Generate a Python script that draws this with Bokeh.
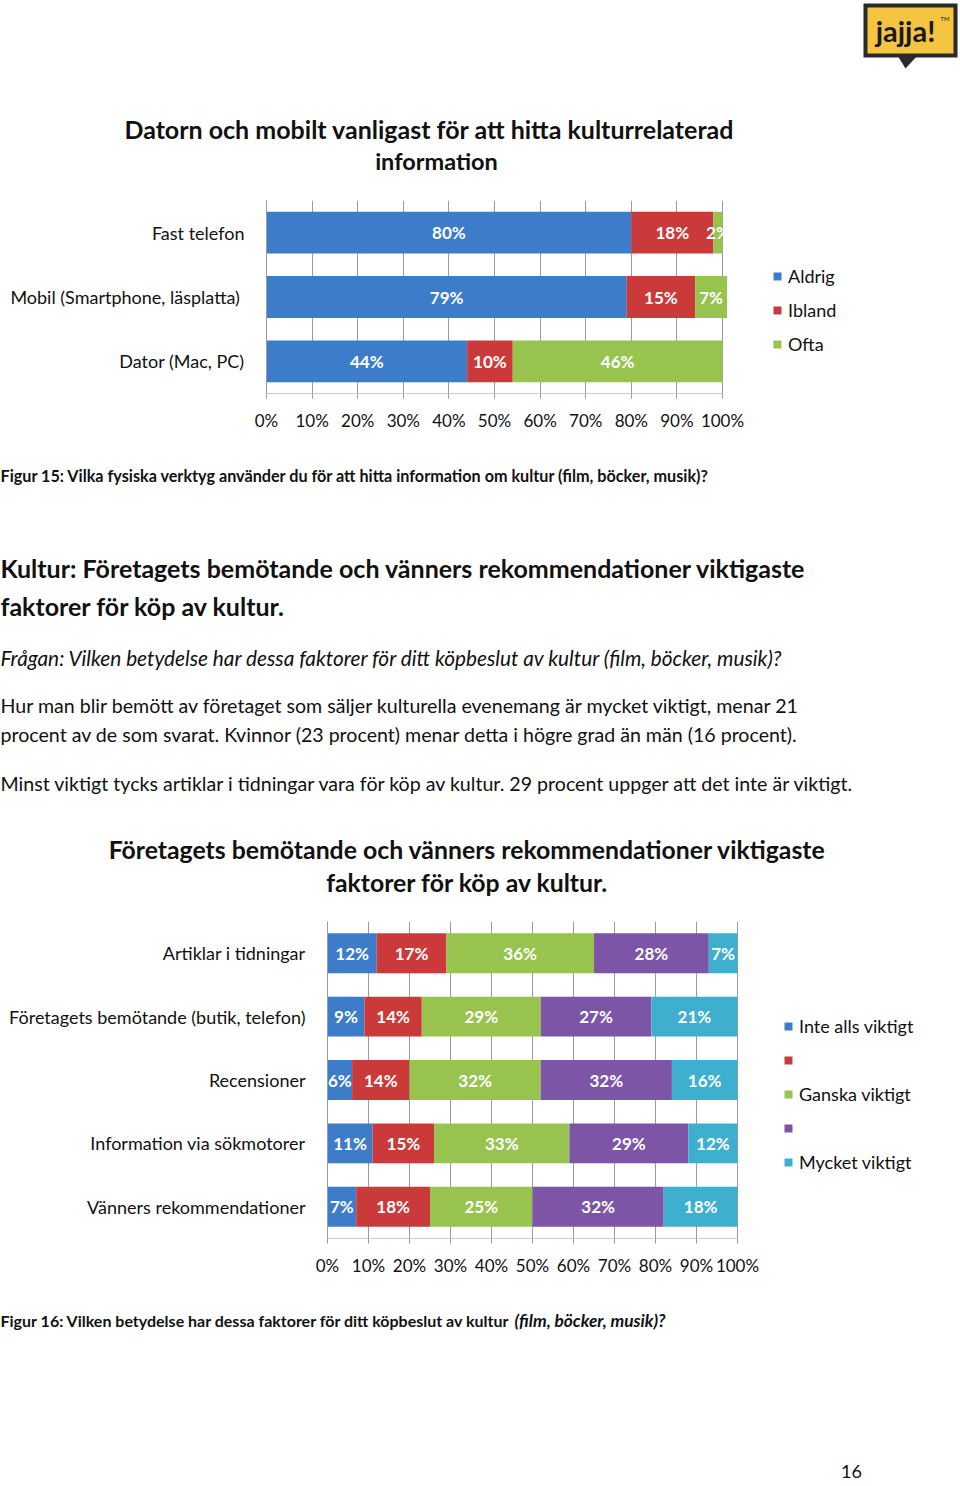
from bokeh.plotting import figure
from bokeh.models import (Range1d, FactorRange, Label, LabelSet, ColumnDataSource,
                          Legend, LegendItem, FixedTicker)
from bokeh.layouts import column
from bokeh.core.properties import value
from bokeh.embed import file_html
from bokeh.resources import INLINE

# ---------------- data ----------------
tick_values = [0, 10, 20, 30, 40, 50, 60, 70, 80, 90, 100]
tick_labels = ["0%", "10%", "20%", "30%", "40%", "50%", "60%", "70%", "80%", "90%", "100%"]

c1_title = ["Datorn och mobilt vanligast för att hitta kulturrelaterad", "information"]
c1_categories = ["Fast telefon", "Mobil (Smartphone,  läsplatta)", "Dator (Mac, PC)"]
c1_series = ["Aldrig", "Ibland", "Ofta"]
c1_aldrig = [80, 79, 44]
c1_ibland = [18, 15, 10]
c1_ofta = [2, 7, 46]

c2_title = ["Företagets bemötande och vänners rekommendationer viktigaste",
            "faktorer för köp av kultur."]
c2_categories = ["Artiklar i tidningar", "Företagets bemötande (butik, telefon)",
                 "Recensioner", "Information via sökmotorer", "Vänners rekommendationer"]
c2_series = ["Inte alls viktigt", "", "Ganska viktigt", "", "Mycket viktigt"]
c2_inte_alls = [12, 9, 6, 11, 7]
c2_lite = [17, 14, 14, 15, 18]
c2_ganska = [36, 29, 32, 33, 25]
c2_ganska_mycket = [28, 27, 32, 29, 32]
c2_mycket = [7, 21, 16, 12, 18]

# ---------------- style ----------------
W = 958
FONT = "Lato"
BLUE, RED, GREEN, PURPLE, TEAL = "#3d7cc9", "#cb3a3a", "#97c34e", "#7d55a6", "#3eafcf"
GRID = "#9a9a9a"
TXT = "#111111"


def canvas(h):
    p = figure(width=W, height=h, x_range=Range1d(0, W), y_range=Range1d(h, 0),
               x_axis_type=None, y_axis_type=None, output_backend="svg",
               toolbar_location=None, min_border=0, frame_align=False)
    p.grid.visible = False
    p.outline_line_color = None
    return p


def txt(p, x, y, s, size, style="normal", align="left", color=TXT):
    p.add_layout(Label(x=x, y=y, text=s, text_font=FONT, text_font_size=f"{size}px",
                       text_font_style=style, text_align=align, text_baseline="middle",
                       text_color=color))


def chart(cats, series_vals, names, colors, x0, px100, fh, legend_loc, bar_h, spacing):
    fw = W - x0
    p = figure(y_range=FactorRange(factors=list(reversed(cats))),
               x_range=Range1d(0, 100 * fw / px100),
               frame_width=fw, frame_height=fh, min_border_left=x0,
               min_border_right=0, min_border_top=0, min_border_bottom=47,
               output_backend="svg", toolbar_location=None, frame_align=False)
    p.outline_line_color = None
    p.ygrid.visible = False
    p.xgrid.ticker = FixedTicker(ticks=tick_values)
    p.xgrid.grid_line_color = GRID
    p.xaxis.ticker = FixedTicker(ticks=tick_values)
    p.xaxis.major_label_overrides = {t: l for t, l in zip(tick_values, tick_labels)}
    p.xaxis.minor_tick_line_color = None
    p.xaxis.major_tick_in = 0
    p.xaxis.major_tick_out = 5
    p.xaxis.major_tick_line_color = GRID
    p.xaxis.axis_line_color = None
    p.xaxis.major_label_standoff = 11
    p.yaxis.major_tick_line_color = None
    p.yaxis.axis_line_color = GRID
    p.yaxis.major_label_standoff = 16
    p.xaxis.major_label_text_font_size = "17px"
    p.yaxis.major_label_text_font_size = "18px"
    for ax in (p.xaxis, p.yaxis):
        ax.major_label_text_font = FONT
        ax.major_label_text_color = TXT
    # horizontal axis line from 0% to 100% at the bottom of the category range
    p.segment(x0=[tick_values[0]], x1=[tick_values[-1]], y0=[0], y1=[0],
              line_color=GRID, line_width=1)

    left = [0] * len(cats)
    items = []
    for vals, name, col in zip(series_vals, names, colors):
        right = [l + v for l, v in zip(left, vals)]
        src = ColumnDataSource(dict(y=cats, left=left, right=right,
                                    mid=[(l + r) / 2 for l, r in zip(left, right)],
                                    lbl=[f"{v}%" for v in vals]))
        r = p.hbar(y="y", left="left", right="right", height=bar_h, source=src,
                   fill_color=col, line_color=None)
        items.append(LegendItem(label=value(name), renderers=[r]))
        p.add_layout(LabelSet(x="mid", y="y", text="lbl", source=src, text_align="center",
                              text_baseline="middle", text_color="white",
                              text_font=value(FONT), text_font_style="bold",
                              text_font_size="17px"))
        left = right

    leg = Legend(items=items, location=legend_loc, orientation="vertical",
                 border_line_alpha=0, background_fill_alpha=0, padding=0, margin=0,
                 spacing=spacing, label_height=20, glyph_height=10, glyph_width=10,
                 label_standoff=6, label_text_font=FONT, label_text_font_size="18px",
                 label_text_color=TXT)
    p.add_layout(leg)
    return p


# ---------------- top: logo + chart 1 title ----------------
top = canvas(200)
top.quad(left=[863], right=[957], top=[3], bottom=[57], fill_color="#2a2a2a", line_color=None)
top.patch([897, 917, 905], [55, 55, 68], fill_color="#2a2a2a", line_color=None)
top.quad(left=[867], right=[953], top=[7], bottom=[53], fill_color="#f5c542", line_color=None)
txt(top, 905, 30, "jajja!", 29, "bold", "center", "#1a1a1a")
txt(top, 940, 18, "TM", 6, "normal", "left", "#1a1a1a")
txt(top, 429, 128, c1_title[0], 25, "bold", "center")
txt(top, 436, 160, c1_title[1], 23.5, "bold", "center")

# ---------------- chart 1 ----------------
p1 = chart(c1_categories, [c1_aldrig, c1_ibland, c1_ofta], c1_series,
           [BLUE, RED, GREEN], 266, 456, 193, (506, 38), 0.65, 12)

# ---------------- middle text ----------------
mid = canvas(481)
txt(mid, 0, 35, "Figur 15: Vilka fysiska verktyg använder du för att hitta information om kultur (film, böcker, musik)?", 16.2, "bold")
txt(mid, 0, 127, "Kultur: Företagets bemötande och vänners rekommendationer viktigaste", 25, "bold")
txt(mid, 0, 165, "faktorer för köp av kultur.", 25, "bold")
txt(mid, 0, 217, "Frågan: Vilken betydelse har dessa faktorer för ditt köpbeslut av kultur (film, böcker, musik)?", 20.8, "italic")
txt(mid, 0, 265, "Hur man blir bemött av företaget som säljer kulturella evenemang är mycket viktigt, menar 21", 19.6)
txt(mid, 0, 294, "procent av de som svarat. Kvinnor (23 procent) menar detta i högre grad än män (16 procent).", 19.6)
txt(mid, 0, 343, "Minst viktigt tycks artiklar i tidningar vara för köp av kultur. 29 procent uppger att det inte är viktigt.", 19.6)
txt(mid, 467, 409, c2_title[0], 24.8, "bold", "center")
txt(mid, 467, 442, c2_title[1], 24.8, "bold", "center")

# ---------------- chart 2 ----------------
p2 = chart(c2_categories, [c2_inte_alls, c2_lite, c2_ganska, c2_ganska_mycket, c2_mycket],
           c2_series, [BLUE, RED, GREEN, PURPLE, TEAL], 327, 410, 317, (456, 65), 0.63, 13)

# ---------------- bottom ----------------
bot = canvas(199)
txt(bot, 0, 35, "Figur 16: Vilken betydelse har dessa faktorer för ditt köpbeslut av kultur", 16.0, "bold")
txt(bot, 514, 35, "(film, böcker, musik)?", 17.3, "bold italic")
txt(bot, 851, 186, "16", 18, "normal", "center")

layout = column(top, p1, mid, p2, bot, spacing=0)
open("out.html", "w").write(file_html(layout, INLINE))
